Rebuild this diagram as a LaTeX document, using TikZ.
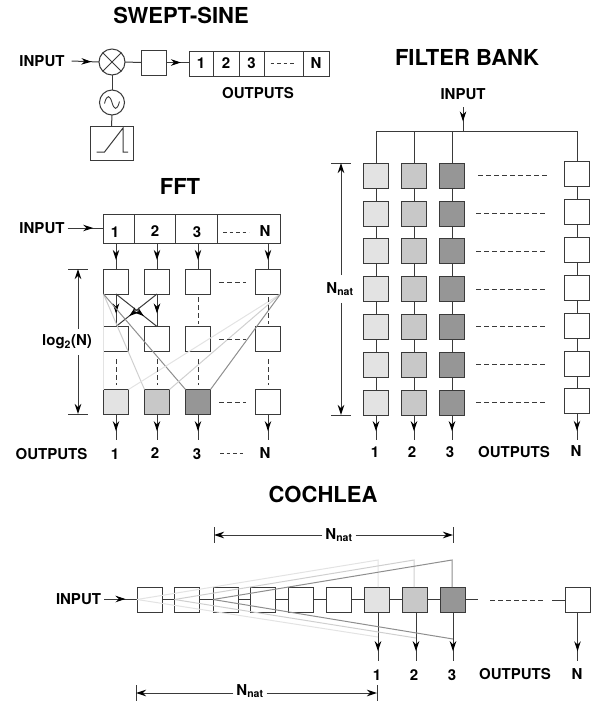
\documentclass[tikz,border=0pt]{standalone}
\usepackage{fontspec}
\setmainfont{TeX Gyre Heros}
\usetikzlibrary{arrows.meta,decorations.markings}
\definecolor{inkgray}{HTML}{3A3A3A}
\definecolor{shadelight}{HTML}{E3E3E3}
\definecolor{shademid}{HTML}{C8C8C8}
\definecolor{shadedark}{HTML}{969696}
\definecolor{fanmid}{HTML}{CFCFCF}
\definecolor{fandark}{HTML}{8E8E8E}
\tikzset{
    box/.style={draw=inkgray,fill=white,line width=1pt,minimum size=25pt,inner sep=0pt,outer sep=0pt},
    shadeA/.style={box,fill=shadelight},
    shadeB/.style={box,fill=shademid},
    shadeC/.style={box,fill=shadedark},
    cell/.style={draw=inkgray,fill=white,line width=1pt,inner sep=0pt,outer sep=0pt,font=\fontsize{15}{18}\selectfont\bfseries},
    lbl/.style={inner sep=3pt,font=\fontsize{15}{18}\selectfont\bfseries},
    ttl/.style={inner sep=0pt,font=\fontsize{22}{26}\selectfont\bfseries},
    wire/.style={draw=inkgray,line width=1pt},
    midtip/.style={wire,postaction={decorate},decoration={markings,mark=at position #1 with {\arrow[black]{Stealth[length=10pt,width=6.5pt]}}}},
    midtip/.default=0.72,
    dimline/.style={wire,-{Stealth[length=10pt,width=6.5pt,black]}},
    shortdash/.style={draw=inkgray,line width=0.7pt,dash pattern=on 3.5pt off 3pt},
    longdash/.style={draw=inkgray,line width=1pt,dash pattern=on 5pt off 3pt},
    fanA/.style={draw=shadelight,line width=1pt},
    fanB/.style={draw=fanmid,line width=1pt},
    fanC/.style={draw=fandark,line width=1pt},
}
\begin{document}
\begin{tikzpicture}[x=1pt,y=-1pt]
    \useasboundingbox (0,0) rectangle (594,702);

    % Swept-sine
    \node[ttl] (swtitle) at (181,15) {SWEPT-SINE};
    \node[lbl] (swin) at (42,61) {INPUT};
    \node[circle,box,minimum size=26pt] (mix) at (112,62) {};
    \draw[wire] (mix.45) -- (mix.225) (mix.135) -- (mix.315);
    \node[box] (swfilter) at (153.5,62.5) {};
    \foreach \n/\xa/\xb/\txt in {1/189/213/1,2/213/239/2,3/239/264/3,4/264/303/,5/303/329/N} {
        \node[cell,minimum width=\xb pt-\xa pt,minimum height=25pt] (sw\n) at ({(\xa+\xb)/2},63.5) {\txt};
    }
    \draw[shortdash] (sw4.center) +(-13,0) -- +(13,0);
    \node[lbl] (swout) at (258,93) {OUTPUTS};
    \node[circle,box,minimum size=25pt] (osc) at (112,102.5) {};
    \draw[wire,line width=0.9pt,shift={(osc.center)}] (-7.5,1) .. controls (-5,-9) and (-2,-7) .. (0,0) .. controls (2,7) and (5,9) .. (7.5,-1);
    \node[box,minimum width=43pt,minimum height=34pt] (ramp) at (111.5,143) {};
    \draw[wire,shift={(ramp.center)}] (-15,9) -- (-7,9) -- (11.5,-15) -- (11.5,9) -- (16.5,9);
    \draw[midtip] ([xshift=4pt]swin.east) -- (mix.west);
    \draw[wire] (mix.east) -- (swfilter.west);
    \draw[midtip=0.65] (swfilter.east) -- (swfilter.east -| sw1.west);
    \draw[wire] (mix.south) -- (osc.north);
    \draw[wire] (osc.south) -- (ramp.north);

    % FFT
    \node[ttl] (fftitle) at (180,186) {FFT};
    \node[lbl] (ffin) at (42,228) {INPUT};
    \foreach \n/\xa/\xb in {1/103/134,2/134/175,3/175/217,4/217/280} {
        \node[cell,minimum width=\xb pt-\xa pt,minimum height=29pt] (fc\n) at ({(\xa+\xb)/2},228.5) {};
    }
    \node[lbl] (fcl1) at (115,232) {1};
    \node[lbl] (fcl2) at (155,231) {2};
    \node[lbl] (fcl3) at (197,232) {3};
    \node[lbl] (fclN) at (265,231) {N};
    \draw[shortdash] (223,232) -- (249,232);
    \draw[midtip] (ffin.east) -- (ffin.east -| fc1.west);

    % FFT stages
    \foreach \c/\cx in {1/116,2/157,3/198,4/268} {
        \node[box] (ff\c1) at (\cx,281.5) {};
        \node[box] (ff\c2) at (\cx,339) {};
    }
    \foreach \c/\cx/\shade in {1/116/shadeA,2/157/shadeB,3/198/shadeC,4/268/box} {
        \node[\shade] (ff\c3) at (\cx,402) {};
        \coordinate (ffout\c) at (\cx,440);
        \draw[midtip=0.65] (ff\c1.north |- fc1.south) -- (ff\c1.north);
        \draw[midtip=0.65] (ff\c3.south) -- (ffout\c);
    }
    % butterfly
    \draw[midtip=0.6] (ff11.south) -- (ff12.north);
    \draw[midtip=0.6] (ff21.south) -- (ff22.north);
    \draw[midtip=0.68] (ff11.south) -- (ff22.north);
    \draw[midtip=0.68] (ff21.south) -- (ff12.north);
    % fan of gray lines
    \draw[fanA] (ff11.south west) -- (ff13.north west);
    \draw[fanB] (ff11.south west) -- (ff23.north west);
    \draw[fanC] (ff11.south west) -- (ff33.north west);
    \draw[fanA] (ff41.south east) -- (ff13.north east);
    \draw[fanB] (ff41.south east) -- (ff23.north east);
    \draw[fanC] (ff41.south east) -- (ff33.north east);
    % dashes between the stages
    \draw[longdash] (198,297) -- (198,324);
    \draw[longdash] (268,297) -- (268,324);
    \foreach \cx in {116,157,198,268} {
        \draw[longdash] (\cx,359) -- (\cx,385);
    }
    \foreach \ry in {282,339,402} {
        \draw[longdash] (219,\ry) -- (246,\ry);
    }
    % FFT depth
    \coordinate (logtop) at (78,269);
    \coordinate (logbot) at (78,414);
    \draw[wire] (logtop) +(-10,0) -- +(10,0);
    \draw[wire] (logbot) +(-10,0) -- +(10,0);
    \node[lbl,inner ysep=6pt] (logN) at (67,342) {log\textsubscript{2}(N)};
    \draw[dimline] (logN.north -| logtop) -- (logtop);
    \draw[dimline] (logN.south -| logbot) -- (logbot);
    % FFT outputs
    \node[lbl] (ffoutl) at (51.5,454) {OUTPUTS};
    \node[lbl] (ffl1) at (115,454) {1};
    \node[lbl] (ffl2) at (155,453) {2};
    \node[lbl] (ffl3) at (197,454) {3};
    \node[lbl] (fflN) at (265,453) {N};
    \draw[shortdash] (220,453) -- (246,453);

    % Filter bank
    \node[ttl] (fbtitle) at (467,57) {FILTER BANK};
    \node[lbl] (fbin) at (463,94) {INPUT};
    \coordinate (fbtop) at (463,107);
    \coordinate (fbtap) at (463,131);
    \foreach \c/\cx/\shade/\dy in {1/376/shadeA/0,2/414/shadeB/0,3/452/shadeC/0,4/577/box/-1.3} {
        \foreach \r/\ry in {1/175.5,2/213.5,3/251,4/289,5/327,6/365,7/402.5} {
            \node[\shade] (fb\c\r) at (\cx,\ry+\dy) {};
        }
        \foreach \r/\s in {1/2,2/3,3/4,4/5,5/6,6/7} {
            \draw[wire] (fb\c\r.south) -- (fb\c\s.north);
        }
        \coordinate (fbout\c) at (\cx,440);
        \draw[wire] (fb\c1.north |- fbtap) -- (fb\c1.north);
        \draw[midtip=0.65] (fb\c7.south) -- (fbout\c);
    }
    \draw[wire] (fb11.north |- fbtap) -- (fb41.north |- fbtap);
    \draw[midtip=0.6] (fbtop) -- (fbtap);
    \draw[longdash] (478,175) -- (549,175);
    \foreach \ry in {213,251,289,326,364,402} {
        \draw[longdash] (476,\ry) -- (547,\ry);
    }
    % Filter bank height
    \coordinate (fbntop) at (341,163);
    \coordinate (fbnbot) at (341,415);
    \draw[wire] (fbntop) +(-10,0) -- +(10,0);
    \draw[wire] (fbnbot) +(-10,0) -- +(10,0);
    \node[lbl,inner ysep=7pt] (fbnat) at (340,289) {N\textsubscript{nat}};
    \draw[dimline] (fbnat.north -| fbntop) -- (fbntop);
    \draw[dimline] (fbnat.south -| fbnbot) -- (fbnbot);
    % Filter bank outputs
    \node[lbl] (fbl1) at (375,452) {1};
    \node[lbl] (fbl2) at (412,452) {2};
    \node[lbl] (fbl3) at (450,452) {3};
    \node[lbl] (fboutl) at (514,452) {OUTPUTS};
    \node[lbl] (fblN) at (576,451) {N};

    % Cochlea
    \node[ttl] (cotitle) at (323,494) {COCHLEA};
    \node[lbl] (coin) at (78.5,599) {INPUT};
    \foreach \n/\cx/\shade in {1/149.5/box,2/187/box,3/225.5/box,4/263/box,5/301/box,6/339/box,7/377/shadeA,8/415/shadeB,9/452.5/shadeC} {
        \node[\shade] (co\n) at (\cx,599.5) {};
    }
    \node[box] (coN) at (577.5,600) {};
    \draw[midtip=0.65] (coin.east) -- (coin.east -| co1.west);
    \foreach \n/\m in {1/2,2/3,3/4,4/5,5/6,6/7,7/8,8/9} {
        \draw[wire] (co\n.east) -- (co\m.west);
    }
    \coordinate (costub) at (478,599.5);
    \coordinate (coback) at (552,600);
    \draw[wire] (co9.east) -- (costub);
    \draw[wire] (coback) -- (coN.west);
    \draw[longdash] (490,600) -- (544,600);
    % Cochlea outputs
    \coordinate (coout7) at (378,661);
    \coordinate (coout8) at (416,661);
    \coordinate (coout9) at (453,661);
    \coordinate (cooutN) at (577.5,661);
    \coordinate (cotap7) at (378,637);
    \coordinate (cotap8) at (416,638);
    \coordinate (cotap9) at (453,639);
    \coordinate (cohi7) at (378,560);
    \coordinate (cohi8) at (414,560);
    \coordinate (cohi9) at (452,560);
    \foreach \n/\a/\style in {7/1/fanA,8/2/fanB,9/3/fanC} {
        \draw[\style] (co\a.west) -- (cohi\n) -- (cohi\n |- co\n.north);
        \draw[\style] (co\a.west) -- (cotap\n);
        \draw[midtip=0.8] (coout\n |- co\n.south) -- (coout\n);
    }
    \draw[midtip=0.8] (coN.south) -- (cooutN);
    \node[lbl] (col1) at (377,675) {1};
    \node[lbl] (col2) at (414,675) {2};
    \node[lbl] (col3) at (452,675) {3};
    \node[lbl] (cooutl) at (515,674) {OUTPUTS};
    \node[lbl] (colN) at (577,674) {N};
    % Cochlea spans
    \coordinate (cotopl) at (214,535);
    \coordinate (cotopr) at (453,535);
    \coordinate (cobotl) at (136,693);
    \coordinate (cobotr) at (377,693);
    \foreach \p in {cotopl,cotopr,cobotl,cobotr} {
        \draw[wire] (\p) +(0,-8) -- +(0,8);
    }
    \node[lbl] (cotopnat) at (339,535) {N\textsubscript{nat}};
    \node[lbl] (cobotnat) at (250,691) {N\textsubscript{nat}};
    \draw[dimline] (cotopnat.west) -- (cotopl);
    \draw[dimline] (cotopnat.east |- cotopr) -- (cotopr);
    \draw[dimline] (cobotnat.west |- cobotl) -- (cobotl);
    \draw[dimline] (cobotnat.east |- cobotr) -- (cobotr);
\end{tikzpicture}
\end{document}
